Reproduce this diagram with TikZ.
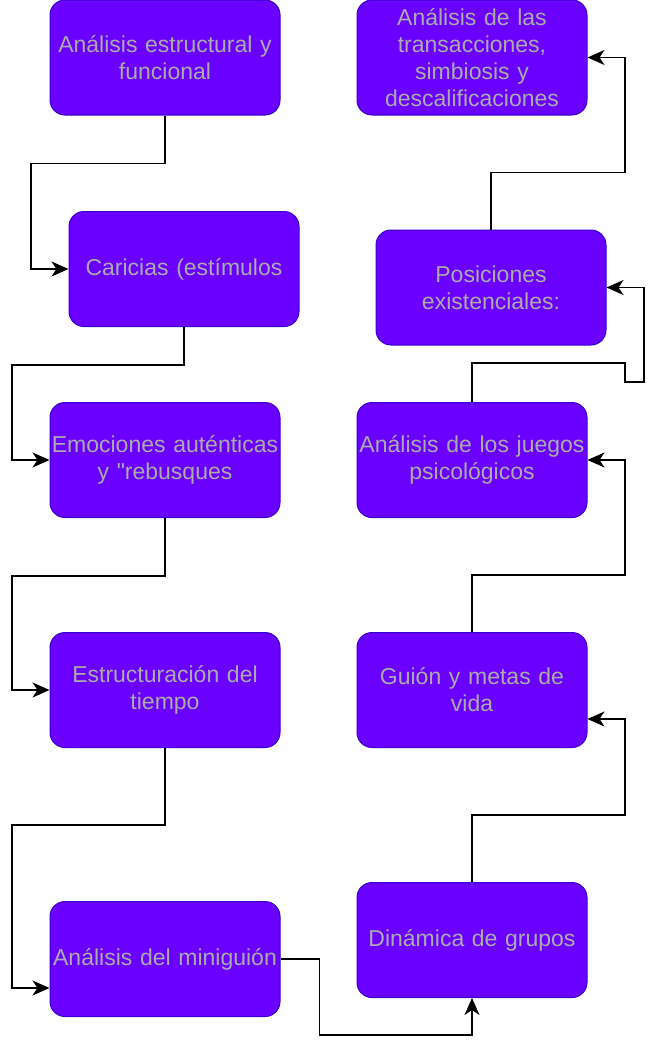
\documentclass[tikz,border=0pt]{standalone}
\usepackage{fontspec}
\setmainfont{Liberation Sans}
\usetikzlibrary{arrows.meta}
\definecolor{cajafondo}{HTML}{6A00FF}
\definecolor{cajaborde}{HTML}{3700CC}
\definecolor{cajatexto}{HTML}{ABABAB}

\begin{document}
\begin{tikzpicture}[x=1pt,y=-1pt,
    caja/.style={draw=cajaborde,fill=cajafondo,line width=1pt,rounded corners=15pt,
      text width=240pt,inner xsep=-5pt,minimum height=115pt,align=center,text=cajatexto,
      font=\fontsize{23}{27}\selectfont},
    flecha/.style={draw=black,line width=1.5pt,-{Stealth[length=17pt,width=15pt,inset=5pt]}}]
    \useasboundingbox (0,0) rectangle (657,1042);

    % Left column
    \node[caja] (estructural) at (165,57.5) {Análisis estructural y\\funcional};
    \node[caja] (caricias) at (184,269) {Caricias (estímulos};
    \node[caja] (emociones) at (165,460) {Emociones auténticas\\y \textquotedbl rebusques};
    \node[caja] (tiempo) at (165,690) {Estructuración del\\tiempo};
    \node[caja] (miniguion) at (165,959) {Análisis del miniguión};

    % Right column
    \node[caja] (grupos) at (472,940) {Dinámica de grupos};
    \node[caja] (vida) at (472,690) {Guión y metas de\\vida};
    \node[caja] (juegos) at (472,460) {Análisis de los juegos\\psicológicos};
    \node[caja] (posiciones) at (491,287.5) {Posiciones\\existenciales:};
    \node[caja] (transacciones) at (472,57.5) {Análisis de las\\transacciones,\\simbiosis y\\descalificaciones};

    % Connectors
    \draw[flecha] (estructural.south) -- ++(0,48) -- ++(-134,0) |- (caricias.west);
    \draw[flecha] (caricias.south) -- ++(0,38) -- ++(-172,0) |- (emociones.west);
    \draw[flecha] (emociones.south) -- ++(0,58) -- ++(-153,0) |- (tiempo.west);
    \draw[flecha] (tiempo.south) -- ++(0,77) -- ++(-153,0) |- ([yshift=-29pt]miniguion.west);
    \draw[flecha] (miniguion.east) -- ++(39,0) -- ++(0,76) -| (grupos.south);
    \draw[flecha] (grupos.north) -- ++(0,-67) -- ++(153,0) |- ([yshift=-29pt]vida.east);
    \draw[flecha] (vida.north) -- ++(0,-57) -- ++(153,0) |- (juegos.east);
    \draw[flecha] (juegos.north) -- ++(0,-39) -- ++(153,0) -- ++(0,19) -- ++(19,0) |- (posiciones.east);
    \draw[flecha] (posiciones.north) -- ++(0,-57) -- ++(134,0) |- (transacciones.east);
\end{tikzpicture}
\end{document}
